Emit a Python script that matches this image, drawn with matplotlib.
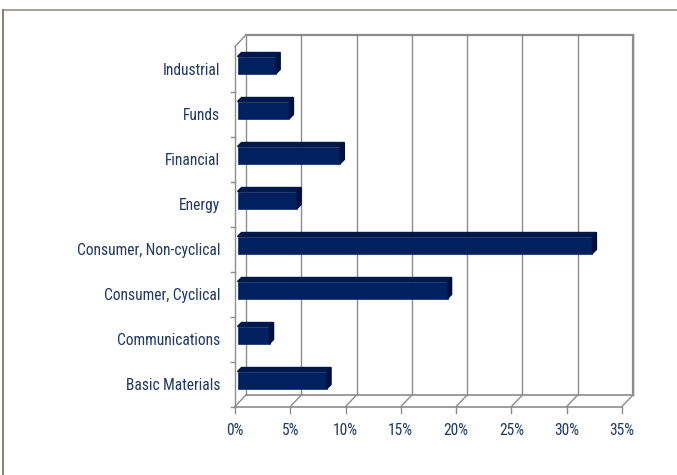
import matplotlib
matplotlib.use('Agg')
import matplotlib.pyplot as plt
from matplotlib.lines import Line2D
from matplotlib.patches import Polygon

categories = ['Basic Materials', 'Communications', 'Consumer, Cyclical',
              'Consumer, Non-cyclical', 'Energy', 'Financial', 'Funds', 'Industrial']
shares = [8.1, 2.9, 19.0, 32.1, 5.4, 9.3, 4.7, 3.5]
x_ticks = [0, 5, 10, 15, 20, 25, 30, 35]
x_labels = ['0%', '5%', '10%', '15%', '20%', '25%', '30%', '35%']

TEXT = '#1f3864'
GRID = '#8c8c8c'
FRONT = '#002060'
TOP = '#00194d'
SIDE = '#00103a'

plt.rcParams['font.family'] = ['Roboto Condensed', 'DejaVu Sans']

W, H, DPI = 677, 475, 100
fig = plt.figure(figsize=(W / DPI, H / DPI), dpi=DPI)

# front plane of the 3d box, in pixels
left_px, right_px, top_px, bottom_px = 235, 622, 46.5, 406.5
ax = fig.add_axes([left_px / W, 1 - bottom_px / H,
                   (right_px - left_px) / W, (bottom_px - top_px) / H])
xmax = 35
ymin, ymax = -0.5, len(categories) - 0.5
ax.set_xlim(0, xmax)
ax.set_ylim(ymin, ymax)
for s in ax.spines.values():
    s.set_visible(False)

# pixel -> data helpers for the depth offsets
px_x = xmax / (right_px - left_px)
px_y = (ymax - ymin) / (bottom_px - top_px)
dx, dy = 11 * px_x, 11.5 * px_y   # depth of the floor/wall


def line(xs, ys, color=GRID, lw=1.0, z=1):
    ax.add_line(Line2D(xs, ys, color=color, lw=lw, zorder=z, clip_on=False))


# back wall gridlines
for t in x_ticks:
    line([t + dx, t + dx], [ymin + dy, ymax + dy], lw=1.0)
line([dx, xmax + dx], [ymax + dy, ymax + dy], lw=1.6)
line([xmax + dx, xmax + dx], [ymin + dy, ymax + dy], lw=1.6)

# floor
line([0, xmax], [ymin, ymin], lw=1.2)
line([dx, xmax + dx], [ymin + dy, ymin + dy], lw=1.2)
for t in x_ticks:
    line([t, t + dx], [ymin, ymin + dy])
    line([t, t], [ymin, ymin - 6 * px_y])

# left axis
line([0, 0], [ymin, ymax], lw=1.0)
line([0, dx], [ymax, ymax + dy])
for k in range(len(categories)):
    yy = ymin + k
    line([0, -4 * px_x], [yy, yy])

# bars
h = 17 * px_y
ox, oy = 2.5 * px_x, 4 * px_y
bx, by = 4 * px_x, 4 * px_y
ys = list(range(len(categories)))
ax.barh([y + oy for y in ys], shares, height=h, left=ox, color=FRONT,
        edgecolor='#0a2a6a', linewidth=0.5, zorder=3)
for y, v in zip(ys, shares):
    top = y + oy + h / 2
    bot = y + oy - h / 2
    ax.add_patch(Polygon([(ox, top), (ox + v, top), (ox + v + bx, top + by),
                          (ox + bx, top + by)], closed=True, color=TOP,
                         zorder=3, clip_on=False))
    ax.add_patch(Polygon([(ox + v, bot), (ox + v, top), (ox + v + bx, top + by),
                          (ox + v + bx, bot + by)], closed=True, color=SIDE,
                         zorder=3, clip_on=False))

ax.set_yticks(ys, categories)
ax.set_xticks(x_ticks, x_labels)
ax.tick_params(axis='y', length=0, pad=10.5, labelsize=11.2, labelcolor=TEXT)
ax.tick_params(axis='x', length=0, pad=12, labelsize=11.2, labelcolor=TEXT)

# chart area border (cut off at right and bottom)
fig.add_artist(Line2D([3 / W, 1], [1 - 10 / H, 1 - 10 / H], color='#a39a92', lw=1.3))
fig.add_artist(Line2D([3 / W, 3 / W], [0, 1 - 10 / H], color='#7f7871', lw=1.3))

fig.savefig('out.png', dpi=DPI, facecolor='white')
